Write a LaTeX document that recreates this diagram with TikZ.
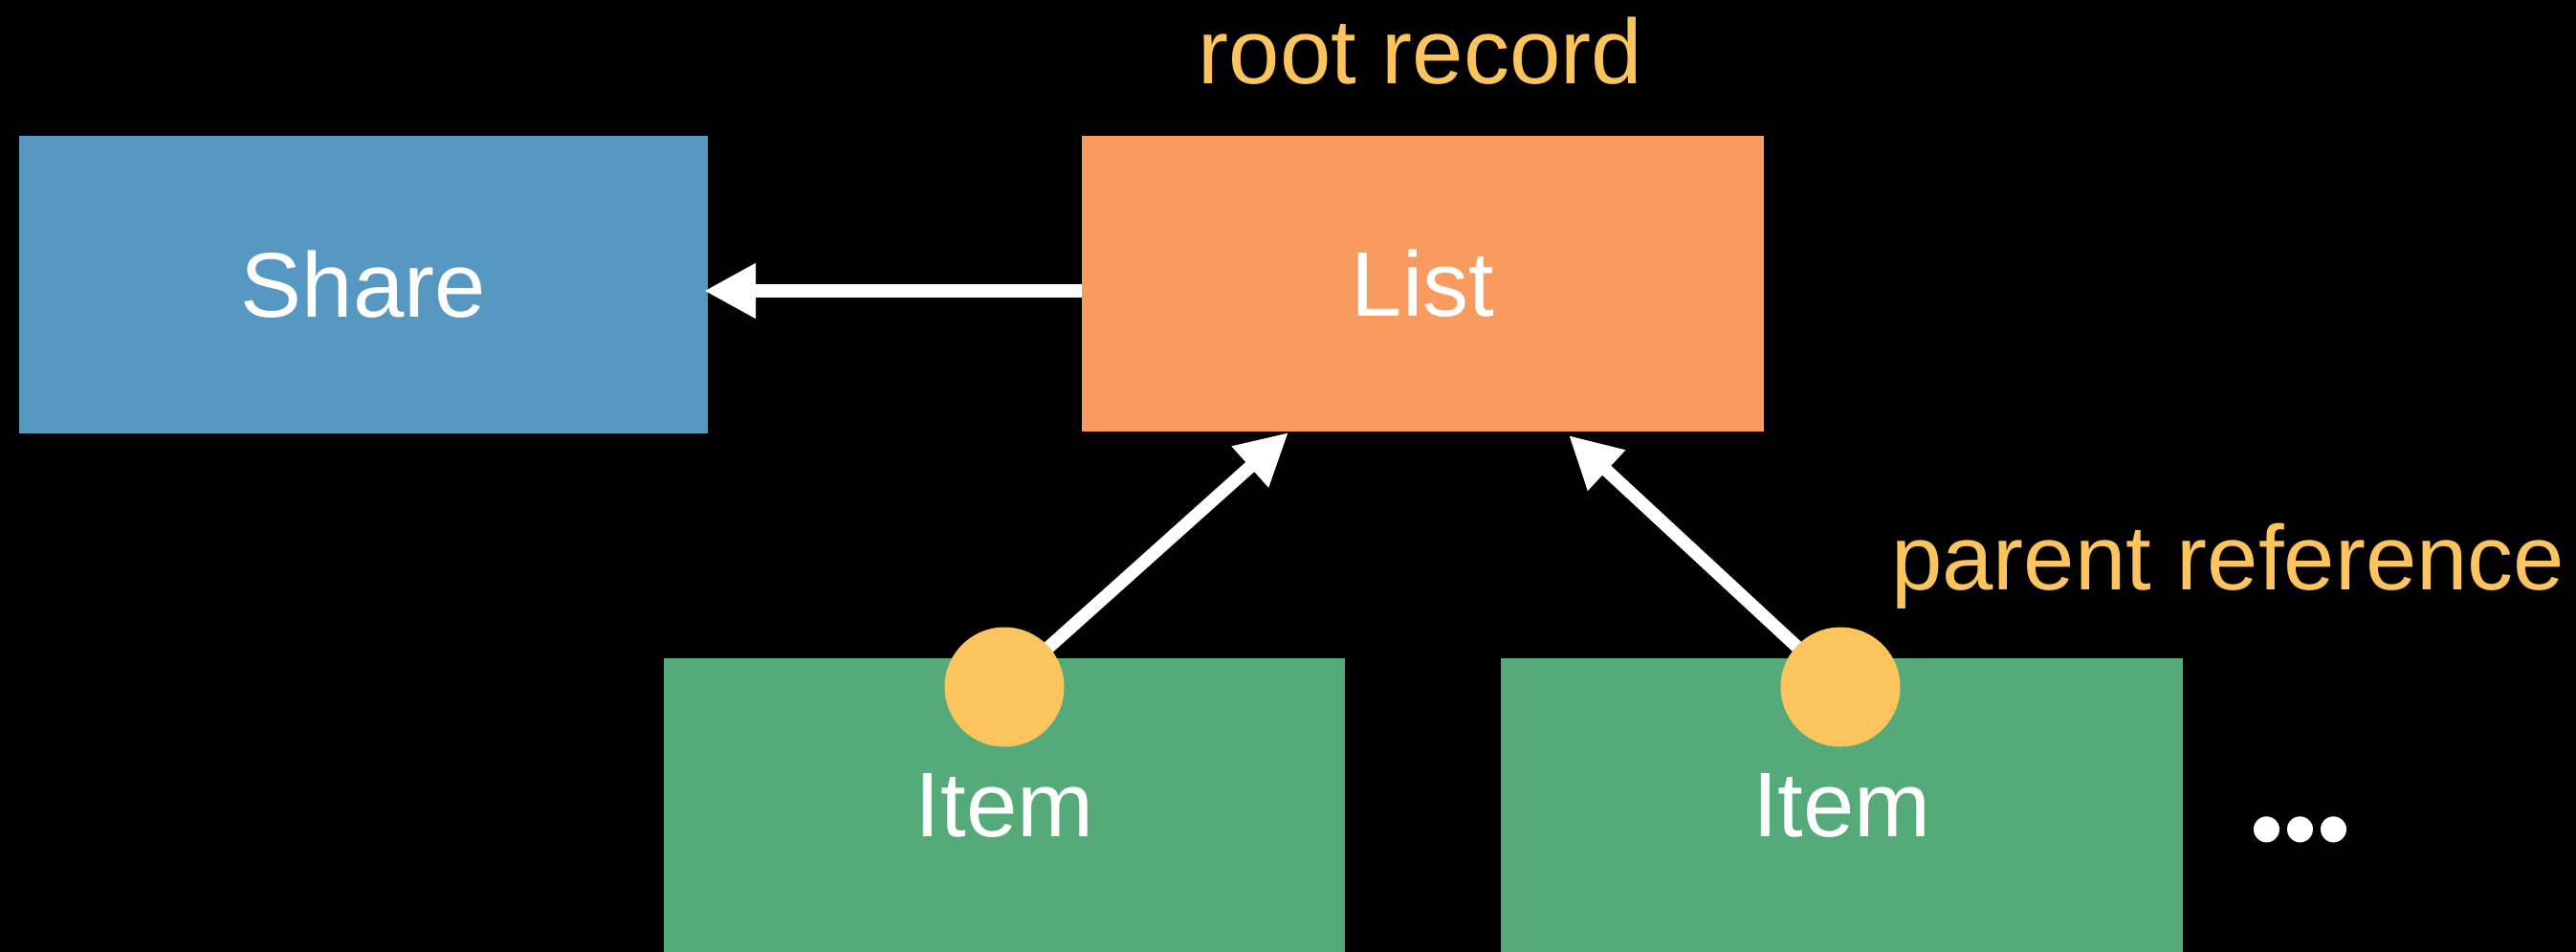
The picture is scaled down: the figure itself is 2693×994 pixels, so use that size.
\documentclass[tikz,border=0pt]{standalone}
\usepackage{fontspec}
\setmainfont{Liberation Sans}
\usetikzlibrary{arrows.meta}
\definecolor{shareblue}{HTML}{5698C2}
\definecolor{listorange}{HTML}{F99A5F}
\definecolor{itemgreen}{HTML}{54AB79}
\definecolor{refyellow}{HTML}{FCC45D}
\tikzset{
  box/.style={draw=none, inner sep=0pt, outer sep=0pt, text=white,
    font=\fontsize{96}{110}\selectfont},
  lbl/.style={inner sep=0pt, outer sep=0pt, text=refyellow, anchor=base,
    font=\fontsize{96}{110}\selectfont},
  refdot/.style={circle, fill=refyellow, draw=none, minimum size=125pt, inner sep=0pt},
  link/.style={white, line width=13.5pt, -{Triangle[length=54pt,width=54pt]}}
}
\begin{document}
\begin{tikzpicture}[x=1pt,y=-1pt]
  \useasboundingbox (0,0) rectangle (2693,994);
  \fill[black] (-20,-20) rectangle (2713,1014);
  % boxes
  \node[box, fill=shareblue, minimum width=720pt, minimum height=311pt] (share) at (380,297.5) {Share};
  \node[box, fill=listorange, minimum width=713pt, minimum height=309pt] (list) at (1487.5,296.5) {List};
  \node[box, fill=itemgreen, minimum width=712pt, minimum height=308pt] (item1) at (1050,842) {Item};
  \node[box, fill=itemgreen, minimum width=713pt, minimum height=308pt] (item2) at (1925.5,842) {Item};
  % reference dots (positions)
  \coordinate (c1) at (1050,718);
  \coordinate (c2) at (1924,718);
  \coordinate (t1) at (1347,452);
  \coordinate (t2) at (1640,455);
  % connectors
  \draw[link, shorten >=-4pt] ([yshift=-7.5pt]list.west) -- ([yshift=-6.5pt]share.east);
  \draw[link] (c1) -- (t1);
  \draw[link] (c2) -- (t2);
  \node[refdot] (r1) at (c1) {};
  \node[refdot] (r2) at (c2) {};
  % labels
  \node[lbl] (rootlbl) at (1485,87) {root record};
  \node[lbl, anchor=base west] (parentlbl) at (1977,616) {parent reference};
  \node[inner sep=0pt, text=white, font=\fontsize{100}{120}\selectfont] (more) at (2405,877) {•••};
\end{tikzpicture}
\end{document}
